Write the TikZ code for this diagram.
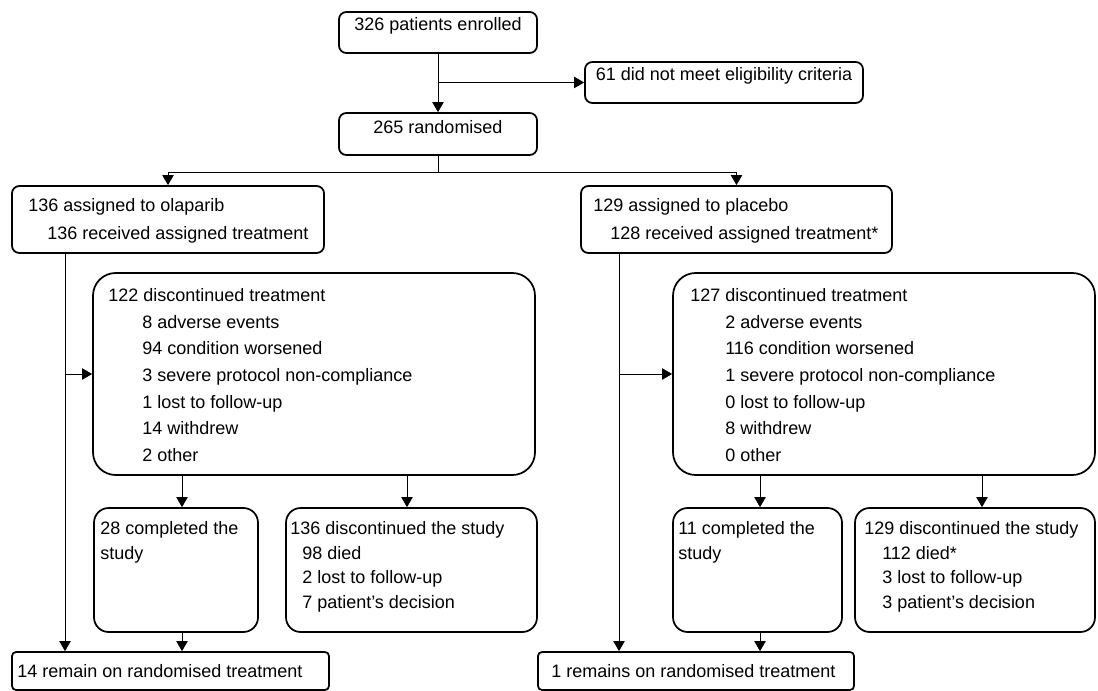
\documentclass[tikz,border=0pt]{standalone}
\usepackage{fontspec}
\setmainfont{Liberation Sans}
\usetikzlibrary{arrows.meta,fit}
\begin{document}
\begin{tikzpicture}[x=0.75pt,y=-0.75pt,
  font=\fontsize{13.5pt}{20pt}\selectfont,
  boxS/.style={draw, line width=1.3pt, inner sep=0pt, rounded corners=5.5pt},
  boxM/.style={draw, line width=1.3pt, inner sep=0pt, rounded corners=11pt},
  boxL/.style={draw, line width=1.3pt, inner sep=0pt, rounded corners=17pt},
  boxT/.style={draw, line width=1.3pt, inner sep=0pt, rounded corners=3pt},
  txt/.style={inner sep=0pt, anchor=base west},
  conn/.style={line width=0.7pt},
  arr/.style={conn, -{Triangle[length=7.5pt,width=8.5pt]}}]
\useasboundingbox (0,0) rectangle (1098,691);

% boxes
\node[boxS, fit={(339,12) (537,53)}] (enr) {326 patients enrolled};
\node[boxS, fit={(585,62) (863,103)}] (elg) {61 did not meet eligibility criteria};
\node[boxS, fit={(339,113) (537,155)}] (rnd) {265 randomised};
\node[boxS, fit={(12,186) (324,253)}] (ola) {};
\node[boxS, fit={(581,186) (892,253)}] (pla) {};
\node[boxL, fit={(93,273) (535,475)}] (dL) {};
\node[boxL, fit={(673,273) (1095,475)}] (dR) {};
\node[boxM, fit={(94,508) (258,632)}] (cL) {};
\node[boxM, fit={(286,508) (537,632)}] (sL) {};
\node[boxM, fit={(673,508) (842,632)}] (cR) {};
\node[boxM, fit={(855,508) (1095,632)}] (sR) {};
\node[boxT, fit={(12,652) (329,690)}] (remL) {};
\node[boxT, fit={(538,652) (854,690)}] (remR) {};

% texts
\node[txt] (ola1) at (28,211.5) {136 assigned to olaparib};
\node[txt] (ola2) at (47,239.5) {136 received assigned treatment};
\node[txt] (pla1) at (593,211.5) {129 assigned to placebo};
\node[txt] (pla2) at (610,239.5) {128 received assigned treatment*};

\node[txt] (dL1) at (108,301.5) {122 discontinued treatment};
\node[txt] (dL2) at (142,328.2) {8 adverse events};
\node[txt] (dL3) at (142,354.8) {94 condition worsened};
\node[txt] (dL4) at (142,381.5) {3 severe protocol non-compliance};
\node[txt] (dL5) at (142,408.2) {1 lost to follow-up};
\node[txt] (dL6) at (142,434.8) {14 withdrew};
\node[txt] (dL7) at (142,461.5) {2 other};

\node[txt] (dR1) at (690,301.5) {127 discontinued treatment};
\node[txt] (dR2) at (725,328.2) {2 adverse events};
\node[txt] (dR3) at (725,354.8) {116 condition worsened};
\node[txt] (dR4) at (725,381.5) {1 severe protocol non-compliance};
\node[txt] (dR5) at (725,408.2) {0 lost to follow-up};
\node[txt] (dR6) at (725,434.8) {8 withdrew};
\node[txt] (dR7) at (725,461.5) {0 other};

\node[txt] (cL1) at (100,534.5) {28 completed the};
\node[txt] (cL2) at (100,559) {study};
\node[txt] (sL1) at (290,534.5) {136 discontinued the study};
\node[txt] (sL2) at (302,559) {98 died};
\node[txt] (sL3) at (302,583.5) {2 lost to follow-up};
\node[txt] (sL4) at (302,608) {7 patient’s decision};

\node[txt] (cR1) at (678,534.5) {11 completed the};
\node[txt] (cR2) at (678,559) {study};
\node[txt] (sR1) at (864,534.5) {129 discontinued the study};
\node[txt] (sR2) at (882,559) {112 died*};
\node[txt] (sR3) at (882,583.5) {3 lost to follow-up};
\node[txt] (sR4) at (882,608) {3 patient’s decision};

\node[txt] (remL1) at (17,677.5) {14 remain on randomised treatment};
\node[txt] (remR1) at (551,677.5) {1 remains on randomised treatment};

% helper coordinates
\coordinate (split) at (438,172);
\coordinate (xoL) at (65,0);
\coordinate (xoR) at (619,0);
\coordinate (xa) at (182,0);
\coordinate (xb) at (407,0);
\coordinate (xc) at (760,0);
\coordinate (xd) at (982,0);

% connectors
\draw[arr] (enr.south) -- (rnd.north);
\draw[arr] (enr.south |- elg.west) -- (elg.west);
\draw[conn] (rnd.south) -- (split);
\draw[arr] (split) -| (ola.north);
\draw[arr] (split) -| (pla.north);

\draw[arr] (ola.south -| xoL) -- (remL.north -| xoL);
\draw[arr] (dL.west -| xoL) -- (dL.west);
\draw[arr] (pla.south -| xoR) -- (remR.north -| xoR);
\draw[arr] (dR.west -| xoR) -- (dR.west);

\draw[arr] (dL.south -| xa) -- (cL.north -| xa);
\draw[arr] (dL.south -| xb) -- (sL.north -| xb);
\draw[arr] (cL.south -| xa) -- (remL.north -| xa);
\draw[arr] (dR.south -| xc) -- (cR.north -| xc);
\draw[arr] (dR.south -| xd) -- (sR.north -| xd);
\draw[arr] (cR.south -| xc) -- (remR.north -| xc);
\end{tikzpicture}
\end{document}
